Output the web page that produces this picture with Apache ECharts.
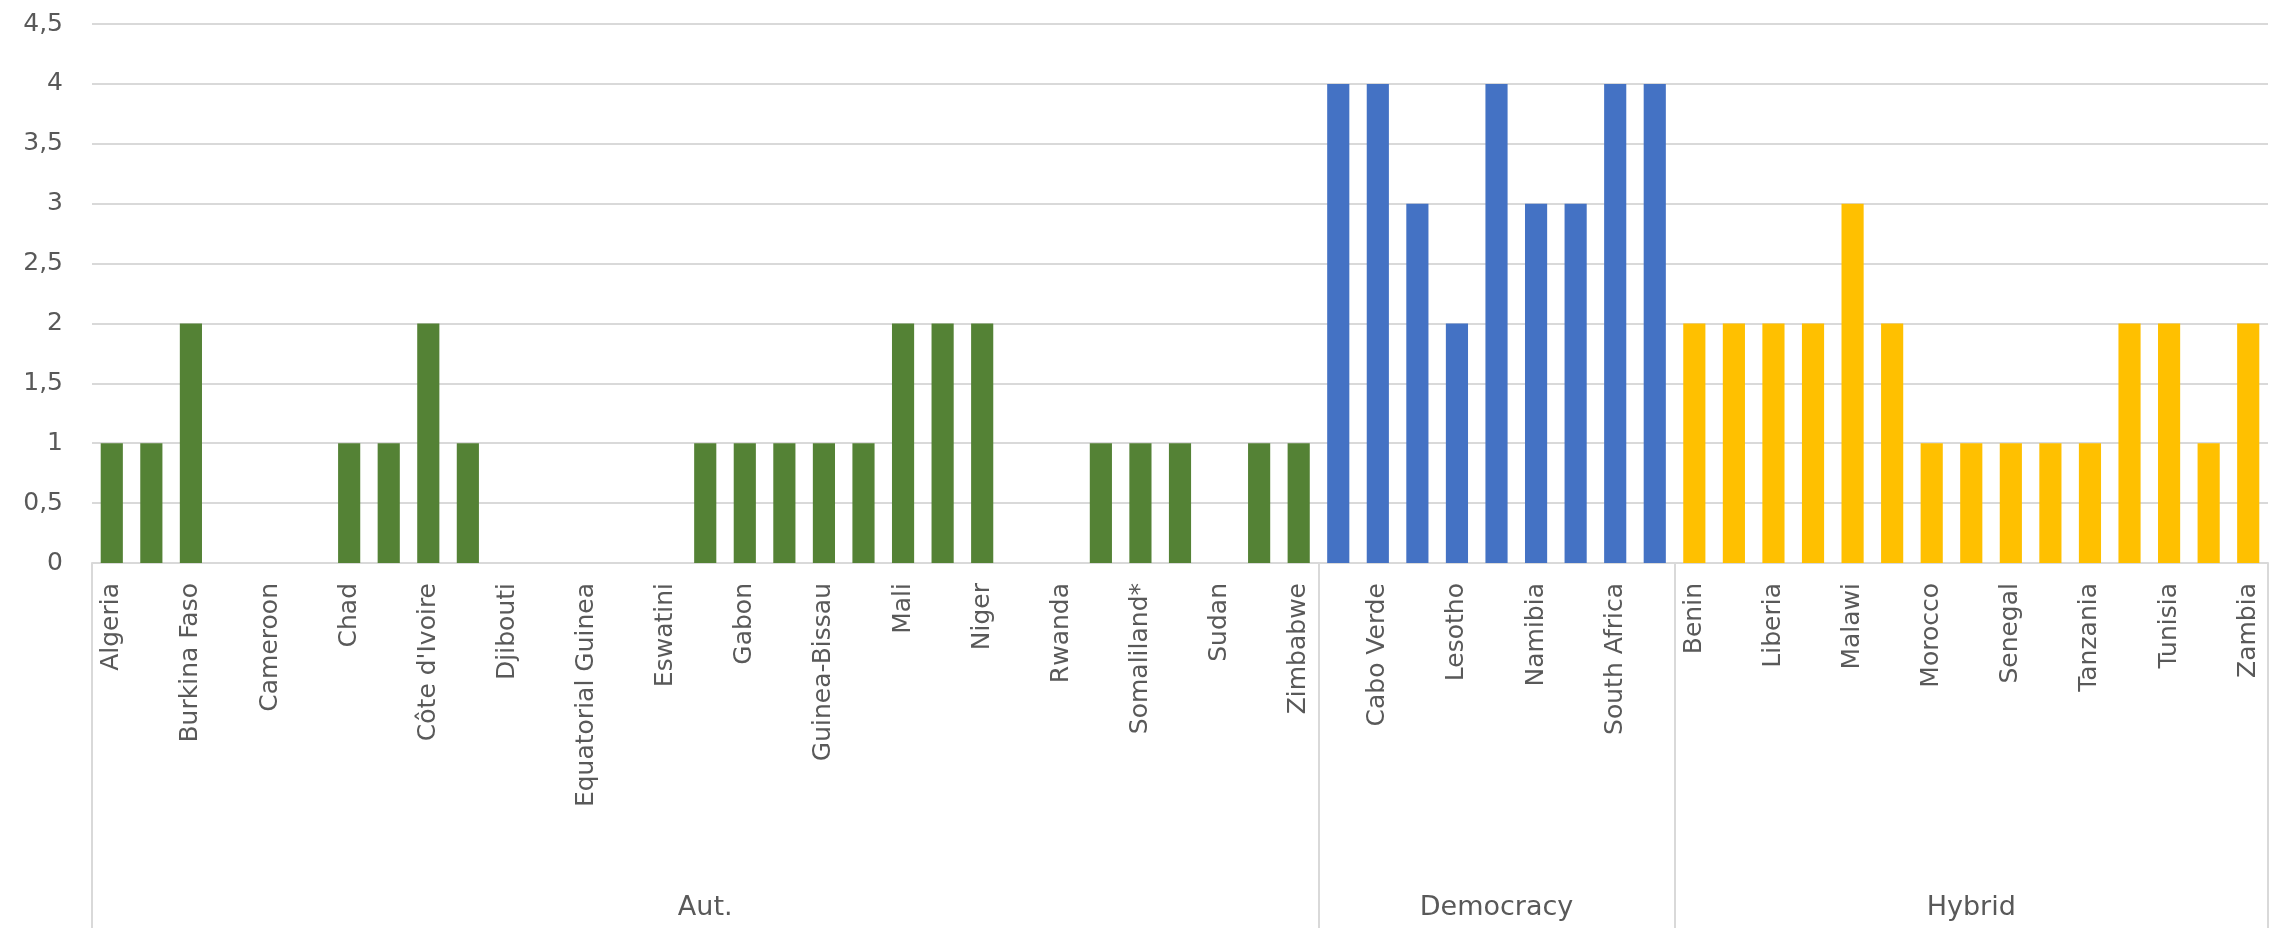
<!DOCTYPE html>
<html>
<head>
<meta charset="utf-8">
<script src="https://cdn.jsdelivr.net/npm/echarts@6/dist/echarts.min.js"></script>
<style>
  html, body { margin: 0; padding: 0; background: #fff; }
  #chart { width: 2292px; height: 928px; }
</style>
</head>
<body>
<div id="chart"></div>
<script>
// countries per regime type, in axis order (only every other name gets shown)
var groups = ["Aut.", "Democracy", "Hybrid"];
var autCountries = ["Algeria", "Angola", "Burkina Faso", "Burundi", "Cameroon", "Central African Republic",
    "Chad", "Comoros", "Côte d'Ivoire", "DR Congo", "Djibouti", "Egypt", "Equatorial Guinea", "Eritrea",
    "Eswatini", "Ethiopia", "Gabon", "Guinea", "Guinea-Bissau", "Libya", "Mali", "Mozambique", "Niger",
    "Republic of Congo", "Rwanda", "Somalia", "Somaliland*", "South Sudan", "Sudan", "Togo", "Zimbabwe"];
var autValues = [1, 1, 2, 0, 0, 0, 1, 1, 2, 1, 0, 0, 0, 0, 0, 1, 1, 1, 1, 1, 2, 2, 2, 0, 0, 1, 1, 1, 0, 1, 1];

var demCountries = ["Botswana", "Cabo Verde", "Ghana", "Lesotho", "Mauritius", "Namibia",
    "Sao Tome and Principe", "South Africa", "Seychelles"];
var demValues = [4, 4, 3, 2, 4, 3, 3, 4, 4];

var hybCountries = ["Benin", "Kenya", "Liberia", "Madagascar", "Malawi", "Mauritania", "Morocco", "Nigeria",
    "Senegal", "Sierra Leone", "Tanzania", "The Gambia", "Tunisia", "Uganda", "Zambia"];
var hybValues = [2, 2, 2, 2, 3, 2, 1, 1, 1, 1, 1, 2, 2, 1, 2];

var colors = ["#548235", "#4472C4", "#FFC000"];
var txt = "#595959";
var line = "#D9D9D9";
var font = "DejaVu Sans";

// flatten the groups into one category axis
var lists = [[autCountries, autValues], [demCountries, demValues], [hybCountries, hybValues]];
var cats = [];
var barData = [];
var bounds = [0];
var centers = {};
lists.forEach((g, gi) => {
    var start = cats.length;
    g[0].forEach((name, i) => {
        cats.push(name);
        barData.push({ value: g[1][i], itemStyle: { color: colors[gi] } });
    });
    bounds.push(cats.length);
    centers[(start + cats.length) / 2] = groups[gi];
});

var chart = echarts.init(document.getElementById('chart'));
chart.setOption({
    animation: false,
    grid: { left: 92, right: 24, top: 24, bottom: 365, containLabel: false },
    xAxis: [{
        type: 'category',
        data: cats,
        axisLine: { lineStyle: { color: line, width: 2 } },
        axisTick: { show: false },
        axisLabel: {
            rotate: 90, interval: 1, margin: 20, hideOverlap: false,
            color: txt, fontSize: 25, fontFamily: font
        }
    }, {
        // second level: regime groups with separators
        type: 'value',
        min: 0, max: cats.length,
        position: 'bottom',
        axisLine: { show: false },
        splitLine: { show: false },
        axisTick: { show: true, customValues: bounds, length: 365, lineStyle: { color: line, width: 2 } },
        axisLabel: {
            customValues: Object.keys(centers).map(Number),
            formatter: (v) => centers[v] || '',
            margin: 331, color: txt, fontSize: 27, fontFamily: font
        }
    }],
    yAxis: {
        type: 'value',
        min: 0, max: 4.5, interval: 0.5,
        axisLine: { show: false },
        axisTick: { show: false },
        splitLine: { lineStyle: { color: line, width: 2 } },
        axisLabel: {
            margin: 29, color: txt, fontSize: 25, fontFamily: font,
            formatter: (v) => String(v).replace('.', ',')
        }
    },
    series: [{
        type: 'bar',
        xAxisIndex: 0,
        barWidth: '56%',
        data: barData
    }]
});
</script>
</body>
</html>
